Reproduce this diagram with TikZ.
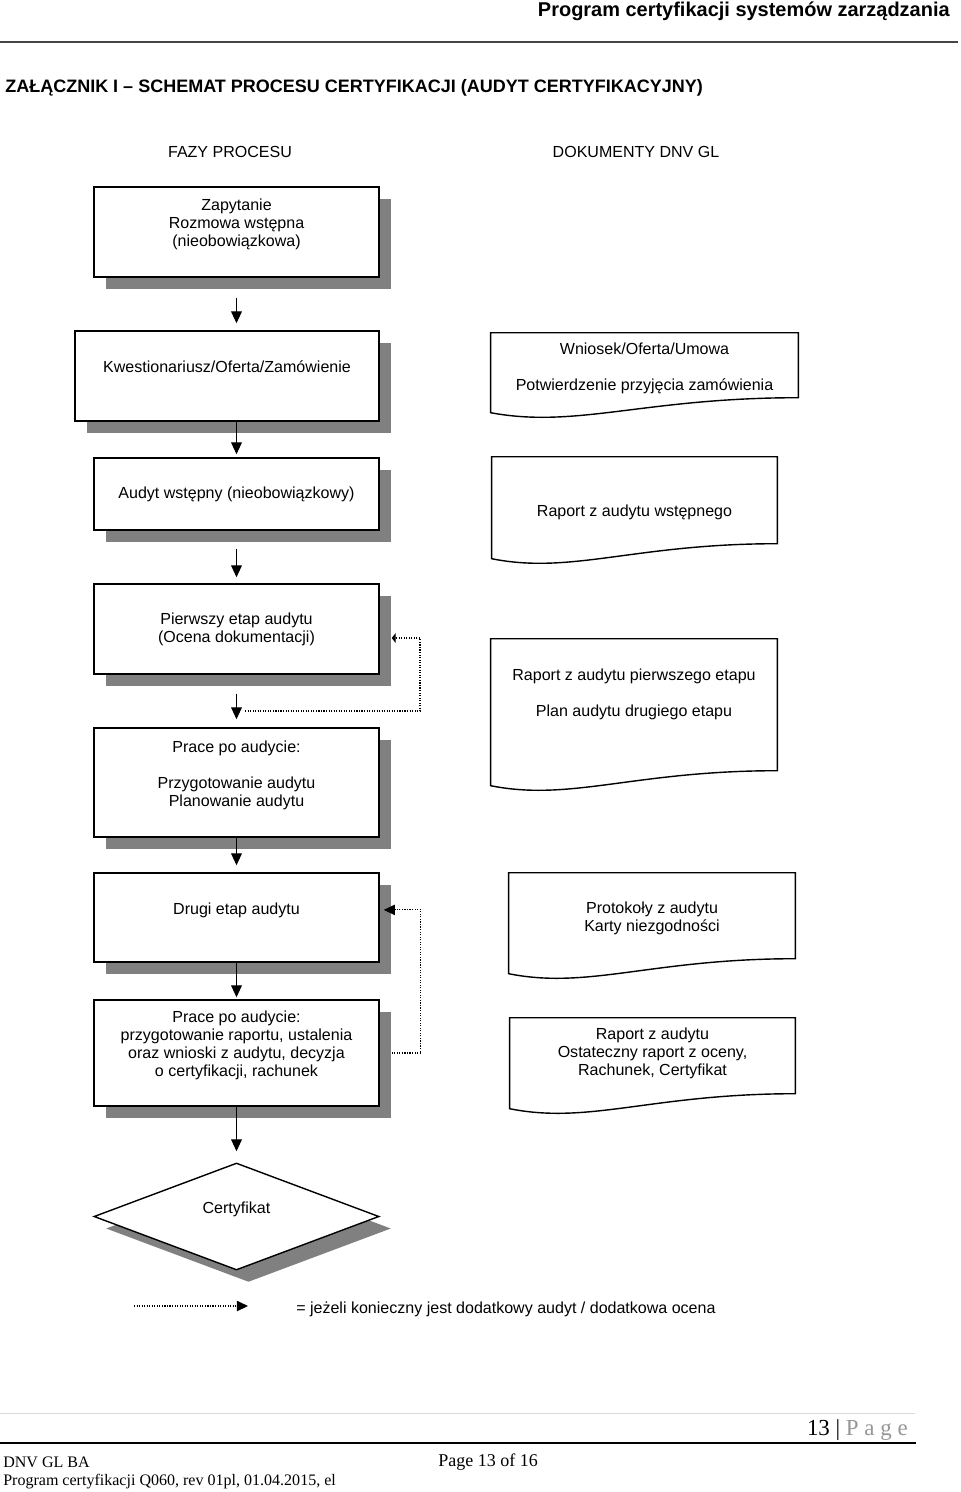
\documentclass[tikz,border=0pt]{standalone}
\usepackage{fontspec}
\setmainfont{Liberation Sans}
\newfontfamily\certfoot{Liberation Serif}
\usetikzlibrary{arrows.meta,calc,shapes.geometric,shadows}
\definecolor{CertShadow}{RGB}{128,128,128}
\definecolor{CertRule}{RGB}{70,70,70}
\definecolor{CertPale}{RGB}{218,218,218}
\definecolor{CertPage}{RGB}{150,150,150}
\tikzset{
  cert/phase/.style={
    draw=black,
    line width=1pt,
    fill=white,
    align=center,
    inner sep=0pt,
    minimum width=7.125cm,
    font=\fontsize{11.4}{12.8}\selectfont,
    drop shadow={shadow xshift=0.3cm, shadow yshift=-0.3cm, fill=CertShadow, opacity=1}
  },
  cert/decision/.style={
    diamond,
    aspect=2.66,
    cert/phase,
    minimum height=2.675cm
  },
  cert/doc/.style={
    align=center,
    inner sep=0pt,
    minimum width=7.15cm,
    font=\fontsize{11.4}{12.8}\selectfont
  },
  cert/docline/.style={draw=black, line width=1pt},
  cert/arrow/.style={-{Triangle[length=0.3cm,width=0.27cm]}, line width=0.9pt},
  cert/loop/.style={-{Triangle[length=0.28cm,width=0.26cm]}, densely dotted, line width=0.8pt},
  cert/stub/.style={-{Triangle[length=0.1cm,width=0.25cm]}, densely dotted, line width=0.8pt},
  cert/text/.style={font=\fontsize{11.4}{12.8}\selectfont, inner sep=0pt},
  cert/foot/.style={font=\certfoot\fontsize{11.4}{13}\selectfont, inner sep=0pt, anchor=west}
}

\begin{document}
\begin{tikzpicture}[x=0.025cm,y=-0.025cm]
  \useasboundingbox (0,0) rectangle (960,1492);

  % page head
  \node[anchor=east, inner sep=0pt, font=\fontsize{14.2}{16}\selectfont\bfseries] (pagehead) at (950,11) {Program certyfikacji systemów zarządzania};
  \draw[CertRule, line width=1.6pt] (0,42) -- (958,42);
  \node[anchor=west, inner sep=0pt, font=\fontsize{12.8}{14}\selectfont\bfseries] (title) at (5,88) {ZAŁĄCZNIK I – SCHEMAT PROCESU CERTYFIKACJI (AUDYT CERTYFIKACYJNY)};
  \node[cert/text] (colphase) at (230,152) {FAZY PROCESU};
  \node[cert/text] (coldoc) at (636,152) {DOKUMENTY DNV GL};

  % phases
  \node[cert/phase, minimum height=2.25cm] (inquiry) at (236.5,232) {Zapytanie\\Rozmowa wstępna\\(nieobowiązkowa)\\~};
  \node[cert/phase, minimum width=7.6cm, minimum height=2.25cm] (offer) at (227,376) {Kwestionariusz/Oferta/Zamówienie\\~};
  \node[cert/phase, minimum height=1.8cm] (preaudit) at (236.5,494) {Audyt wstępny (nieobowiązkowy)};
  \node[cert/phase, minimum height=2.25cm] (stage1) at (236.5,629) {Pierwszy etap audytu\\(Ocena dokumentacji)};
  \node[cert/phase, minimum height=2.725cm] (prep) at (236.5,782.5) {Prace po audycie:\\[\baselineskip]Przygotowanie audytu\\Planowanie audytu\\~};
  \node[cert/phase, minimum height=2.225cm] (stage2) at (236.5,917.5) {Drugi etap audytu\\~};
  \node[cert/phase, minimum height=2.65cm] (report) at (236.5,1053) {Prace po audycie:\\przygotowanie raportu, ustalenia\\oraz wnioski z audytu, decyzja\\o certyfikacji, rachunek\\~};
  \node[cert/decision] (certificate) at (236.5,1216.5) {Certyfikat\\~};

  % documents
  \node[cert/doc, minimum width=7.675cm, minimum height=1.75cm] (doc1) at (644.5,368) {Wniosek/Oferta/Umowa\\[\baselineskip]Potwierdzenie przyjęcia zamówienia};
  \node[cert/doc, minimum width=7.125cm, minimum height=2.75cm] (doc2) at (634.5,512) {Raport z audytu wstępnego};
  \node[cert/doc, minimum height=2.775cm] (doc3) at (634,694.5) {Raport z audytu pierwszego etapu\\[\baselineskip]Plan audytu drugiego etapu};
  \node[cert/doc, minimum height=2.275cm] (doc4) at (652,918.5) {Protokoły z audytu\\Karty niezgodności};
  \node[cert/doc, minimum width=7.125cm, minimum height=1.75cm] (doc5) at (652.5,1053) {Raport z audytu\\Ostateczny raport z oceny,\\Rachunek, Certyfikat};
  \foreach \d/\h in {doc1/65,doc2/87,doc3/132,doc4/86,doc5/76}{
    \draw[cert/docline] (\d.north west) -- (\d.north east) -- ($(\d.north east)+(0,\h)$)
      .. controls ($(\d.north west)!0.5!(\d.north east)+(0,\h)$) and ($(\d.north west)!0.28!(\d.north east)+(0,\h+31)$)
      .. ($(\d.north west)+(0,\h+15)$) -- cycle;
  }

  % flow
  \draw[cert/arrow, shorten <=0.5cm, shorten >=0.175cm] (inquiry.south) -- (inquiry.south |- offer.north);
  \draw[cert/arrow, shorten >=0.075cm] (offer.south -| preaudit.north) -- (preaudit.north);
  \draw[cert/arrow, shorten <=0.45cm, shorten >=0.15cm] (preaudit.south) -- (stage1.north);
  \draw[cert/arrow, shorten <=0.475cm, shorten >=0.2cm] (stage1.south) -- (prep.north);
  \draw[cert/arrow, shorten >=0.175cm] (prep.south) -- (stage2.north);
  \draw[cert/arrow, shorten >=0.05cm] (stage2.south) -- (report.north);
  \draw[cert/arrow, shorten >=0.275cm] (report.south) -- (certificate.north);

  % additional audit loops
  \coordinate (back1) at (245,711);
  \draw[cert/stub] (back1) -- ++(175,0) |- ([xshift=0.3cm,yshift=-0.225cm]stage1.east);
  \draw[cert/loop] ([xshift=0.3cm]report.east) -- ++(29,0) |- ([xshift=0.1cm,yshift=0.19cm]stage2.east);

  % legend
  \coordinate (legstart) at (134,1306);
  \coordinate (legend) at (248,1306);
  \draw[cert/loop] (legstart) -- (legend);
  \node[cert/text, anchor=west] (legtext) at (296,1309) {= jeżeli konieczny jest dodatkowy audyt / dodatkowa ocena};

  % page foot
  \draw[CertPale, line width=0.6pt] (0,1413) -- (915,1413);
  \node[anchor=east, inner sep=0pt, font=\certfoot\fontsize{16.3}{18}\selectfont] (pageno) at (908,1430) {13 | {\color{CertPage}P a g e}};
  \draw[black, line width=1.8pt] (0,1443) -- (916,1443);
  \node[cert/foot] (footorg) at (3,1462) {DNV GL BA};
  \node[cert/foot, font=\certfoot\fontsize{12.8}{14}\selectfont] (footpage) at (438,1462) {Page 13 of 16};
  \node[cert/foot] (footref) at (3,1482) {Program certyfikacji Q060, rev 01pl, 01.04.2015, el};
\end{tikzpicture}
\end{document}
